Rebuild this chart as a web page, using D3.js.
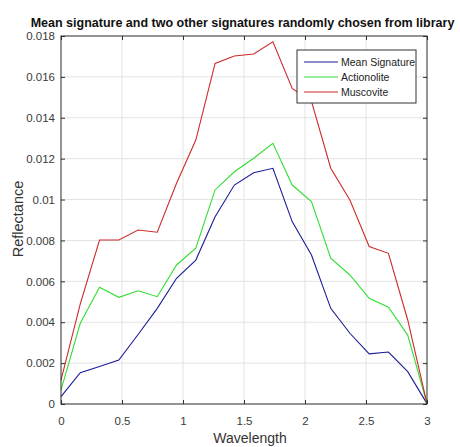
<!DOCTYPE html>
<html><head><meta charset="utf-8">
<script src="https://cdn.jsdelivr.net/npm/d3@7"></script>
<style>body{margin:0;background:#fff}svg{display:block}text{font-family:"Liberation Sans",Arial,sans-serif}</style>
</head><body><svg id="c" width="460" height="447"></svg>
<script>
const wavelength = [0,0.158,0.316,0.474,0.632,0.789,0.947,1.105,1.263,1.421,1.579,1.737,1.895,2.053,2.211,2.368,2.526,2.684,2.842,3];
const meanSignature = [0.00036,0.00153,0.00183,0.00215,0.00340,0.00468,0.00615,0.00704,0.00916,0.01071,0.01131,0.01153,0.00892,0.00729,0.00468,0.00346,0.00245,0.00254,0.00158,0.00002];
const actinolite = [0.00068,0.00395,0.00571,0.00522,0.00554,0.00525,0.00680,0.00762,0.01047,0.01136,0.01202,0.01275,0.01071,0.00990,0.00713,0.00631,0.00517,0.00473,0.00337,0.00002];
const muscovite = [0.00117,0.00490,0.00802,0.00802,0.00851,0.00840,0.01080,0.01291,0.01666,0.01702,0.01712,0.01772,0.01544,0.01480,0.01153,0.00998,0.00770,0.00737,0.00411,0.00002];
const seriesNames = ["Mean Signature","Actionolite","Muscovite"];
const seriesColors = ["#1c1c96","#33dd33","#cc2b2b"];
const xTicks = [0,0.5,1,1.5,2,2.5,3];
const yTicks = [0,0.002,0.004,0.006,0.008,0.01,0.012,0.014,0.016,0.018];
const title = "Mean signature and two other signatures randomly chosen from library";

const svg = d3.select("#c");
const L=61,R=427,T=36,B=404;
const x = d3.scaleLinear().domain([0,3]).range([L,R]);
const y = d3.scaleLinear().domain([0,0.018]).range([B,T]);

// grid
svg.append("g").selectAll("line").data(xTicks.slice(1,-1)).join("line")
  .attr("x1",d=>x(d)).attr("x2",d=>x(d)).attr("y1",T).attr("y2",B)
  .attr("stroke","#e3e3e3").attr("stroke-width",1);
svg.append("g").selectAll("line").data(yTicks.slice(1,-1)).join("line")
  .attr("y1",d=>y(d)).attr("y2",d=>y(d)).attr("x1",L).attr("x2",R)
  .attr("stroke","#e3e3e3").attr("stroke-width",1);

// lines
const line = d3.line().x((d,i)=>x(wavelength[i])).y(d=>y(d));
[meanSignature,actinolite,muscovite].forEach((s,k)=>{
  svg.append("path").datum(s).attr("d",line).attr("fill","none")
    .attr("stroke",seriesColors[k]).attr("stroke-width",1.1);
});

// axes (ticks inside)
const ax = svg.append("g").attr("transform",`translate(0,${B})`)
  .call(d3.axisBottom(x).tickValues(xTicks).tickSize(-4).tickPadding(13).tickFormat(d3.format("~g")));
const ay = svg.append("g").attr("transform",`translate(${L},0)`)
  .call(d3.axisLeft(y).tickValues(yTicks).tickSize(-4).tickPadding(6).tickFormat(d=>d===0?"0":d3.format("~g")(d)));
const at = svg.append("g").attr("transform",`translate(0,${T})`)
  .call(d3.axisTop(x).tickValues(xTicks).tickSize(-4).tickFormat(""));
const ar = svg.append("g").attr("transform",`translate(${R},0)`)
  .call(d3.axisRight(y).tickValues(yTicks).tickSize(-4).tickFormat(""));
[ax,ay,at,ar].forEach(g=>{
  g.select(".domain").remove();
  g.selectAll("line").attr("stroke","#333");
  g.selectAll("text").attr("fill","#3a3a3a").style("font-size","11.5px");
});
svg.append("rect").attr("x",L).attr("y",T).attr("width",R-L).attr("height",B-T)
  .attr("fill","none").attr("stroke","#2a2a2a").attr("stroke-width",1);

// labels
svg.append("text").attr("x",242.5).attr("y",27).attr("text-anchor","middle")
  .style("font-size","12.5px").style("font-weight","bold").attr("fill","#111").text(title);
svg.append("text").attr("x",250).attr("y",443).attr("text-anchor","middle")
  .style("font-size","14px").attr("fill","#333").text("Wavelength");
svg.append("text").attr("transform","translate(23,219) rotate(-90)").attr("text-anchor","middle")
  .style("font-size","14.5px").attr("fill","#333").text("Reflectance");

// legend
const lg = svg.append("g");
lg.append("rect").attr("x",297).attr("y",50).attr("width",119).attr("height",53)
  .attr("fill","#fff").attr("stroke","#333").attr("stroke-width",1);
seriesNames.forEach((n,i)=>{
  const yy = 62 + i*15;
  lg.append("line").attr("x1",304).attr("x2",338).attr("y1",yy).attr("y2",yy)
    .attr("stroke",seriesColors[i]).attr("stroke-width",1.1);
  lg.append("text").attr("x",341).attr("y",yy+4).style("font-size","10.5px")
    .attr("fill","#222").text(n);
});
</script></body></html>
